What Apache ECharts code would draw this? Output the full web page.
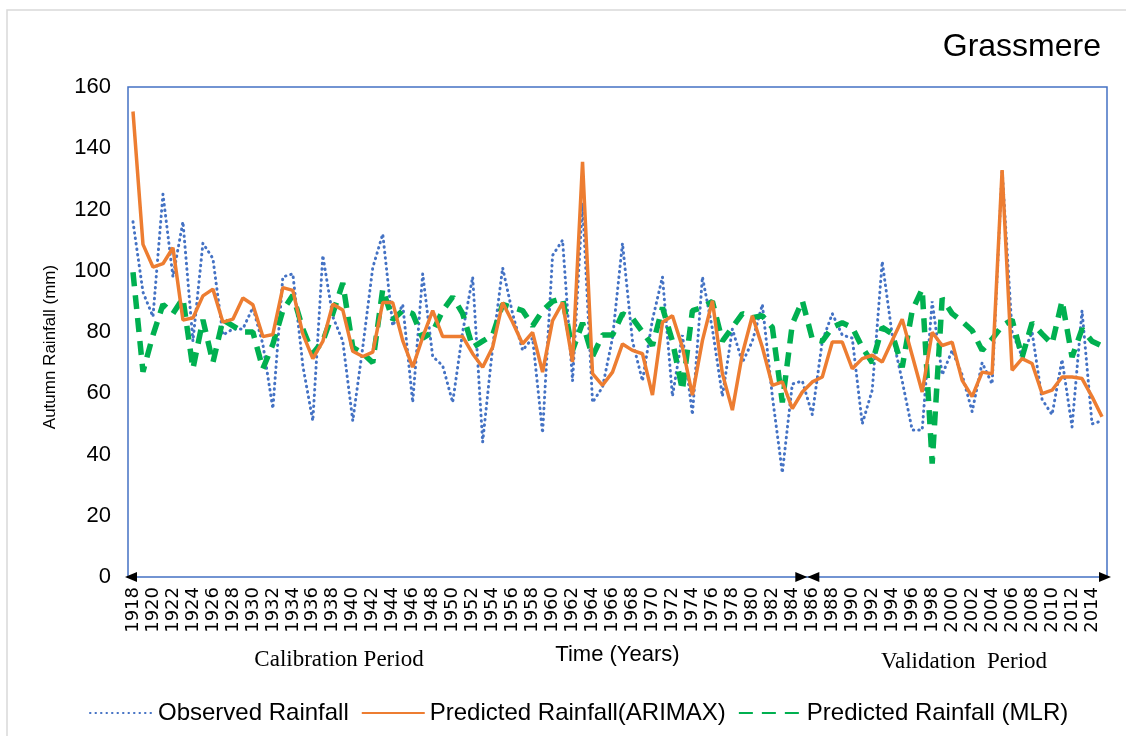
<!DOCTYPE html>
<html>
<head>
<meta charset="utf-8">
<title>Grassmere</title>
<script src="https://cdn.jsdelivr.net/npm/echarts@6/dist/echarts.min.js"></script>
<style>
    html, body { margin: 0; padding: 0; background: #fff; }
    #chart { width: 1126px; height: 736px; }
</style>
</head>
<body>
<div id="chart"></div>
<script>
'use strict';

// years 1918 - 2015
var years = [];
for (var y = 1918; y <= 2015; y++) {
    years.push(String(y));
}

// observed autumn rainfall (mm)
var observed = [
    116, 93, 85, 125, 98, 116, 77, 109, 104, 79,
    81, 81, 88, 76, 55, 98, 99, 69, 51, 105,
    85, 77, 51, 75, 101, 112, 82, 89, 57, 99,
    72, 69, 57, 80, 98, 44, 75, 101, 86, 74,
    78, 47, 105, 110, 64, 122, 57, 62, 78, 109,
    77, 64, 84, 98, 59, 79, 53, 98, 81, 59,
    81, 70, 77, 89, 59, 34, 63, 64, 53, 77,
    86, 79, 78, 50, 61, 103, 79, 64, 48, 48,
    90, 66, 74, 66, 54, 70, 63, 133, 80, 72,
    80, 58, 53, 71, 49, 87, 50, 51
];

// predicted rainfall, ARIMAX
var arimax = [
    152, 108.6, 101.2, 102.3, 107.5, 83.9, 84.6, 91.8, 94, 83.2,
    84.2, 91.1, 88.9, 78.5, 79.2, 94.5, 93.6, 79.4, 71.3, 76.9,
    89.1, 87.2, 73.7, 72, 73.4, 89.6, 89.6, 77.2, 68.5, 78.3,
    87, 78.5, 78.5, 78.5, 72.9, 68.5, 75, 89.6, 83.2, 76.1,
    79.9, 66.9, 83.7, 89.6, 70.2, 135.6, 66.4, 62.6, 66.9, 76.1,
    74, 72.9, 59.4, 83.2, 85.3, 75, 59.4, 77.2, 90.2, 66.4,
    54.5, 72.9, 85.3, 75, 62.6, 63.7, 55, 60.4, 63.7, 65.3,
    76.7, 76.7, 68, 71.3, 72.4, 70.2, 77.2, 84.2, 72.3, 60.4,
    79.9, 75.6, 76.7, 64.2, 58.9, 66.9, 66.4, 132.9, 67.5, 71.3,
    69.7, 59.9, 61, 65.3, 65.3, 64.8, 58.9, 52.3
];

// predicted rainfall, MLR
var mlr = [
    99.5, 67, 79, 89, 86, 91, 68, 84, 70, 84,
    82, 80, 80, 68, 76, 87, 92, 81, 73, 77,
    86, 96, 75, 73, 70, 94, 84, 87, 86, 78,
    80, 87, 91.5, 86, 75, 77, 79, 89, 88, 87,
    82, 87, 90, 91, 74, 83, 72, 79, 79, 86,
    84.5, 80, 75.6, 88, 77, 61, 87, 88, 90, 77,
    81.5, 86, 84.7, 85.3, 81.5, 57, 82.6, 90.2, 77.7, 77,
    81.5, 83, 81.5, 75, 70, 81.5, 79.4, 68.5, 87, 94,
    37, 91, 86, 83.5, 80.5, 74, 77.7, 82, 84, 71.8,
    83, 79.4, 76.1, 90.2, 71.8, 81, 77, 75.4
];

var splitYear = '1985'; // end of calibration period

var chart = echarts.init(document.getElementById('chart'));

chart.setOption({
    animation: false,
    backgroundColor: '#fff',
    title: {
        text: 'Grassmere',
        right: 20,
        top: 26,
        textStyle: { fontFamily: 'Liberation Sans', fontSize: 32, fontWeight: 'normal', color: '#000' }
    },
    grid: {
        left: 128,
        right: 19,
        top: 87,
        bottom: 159,
        show: true,
        borderColor: '#4472C4',
        borderWidth: 1.5,
        backgroundColor: 'transparent'
    },
    legend: {
        left: 84,
        top: 696,
        itemWidth: 63,
        itemHeight: 14,
        itemGap: 12,
        itemStyle: { opacity: 0 },
        textStyle: { fontFamily: 'Liberation Sans', fontSize: 24, color: '#000' },
        data: ['Observed Rainfall', 'Predicted Rainfall(ARIMAX)', 'Predicted Rainfall (MLR)']
    },
    xAxis: {
        type: 'category',
        data: years,
        boundaryGap: true,
        name: 'Time (Years)',
        nameLocation: 'middle',
        nameGap: 67,
        nameTextStyle: { fontFamily: 'Liberation Sans', fontSize: 22, color: '#000' },
        axisLine: { show: false },
        axisTick: { show: false },
        axisLabel: {
            interval: 1,
            rotate: 90,
            margin: 10,
            fontFamily: 'DejaVu Sans',
            fontSize: 18,
            color: '#000'
        },
        splitLine: { show: false }
    },
    yAxis: {
        type: 'value',
        min: 0,
        max: 160,
        interval: 20,
        axisLine: { show: false },
        axisTick: { show: false },
        axisLabel: { margin: 17, fontFamily: 'Liberation Sans', fontSize: 22, color: '#000' },
        splitLine: { show: false }
    },
    series: [{
        name: 'Observed Rainfall',
        type: 'line',
        data: observed,
        symbol: 'none',
        color: '#4472C4',
        lineStyle: { width: 3, type: [0.5, 5], cap: 'round', color: '#4472C4' },
        z: 2
    }, {
        name: 'Predicted Rainfall(ARIMAX)',
        type: 'line',
        data: arimax,
        symbol: 'none',
        color: '#ED7D31',
        lineStyle: { width: 3.5, type: 'solid', color: '#ED7D31' },
        z: 4
    }, {
        name: 'Predicted Rainfall (MLR)',
        type: 'line',
        data: mlr,
        symbol: 'none',
        color: '#00B050',
        lineStyle: { width: 5.5, type: [14, 9], color: '#00B050' },
        z: 3
    }]
});

// 坐标轴上的箭头和时段标注
function drawNotes() {
    var x0 = chart.convertToPixel({ xAxisIndex: 0 }, years[0]);
    var x1 = chart.convertToPixel({ xAxisIndex: 0 }, years[1]);
    var xn = chart.convertToPixel({ xAxisIndex: 0 }, years[years.length - 1]);
    var xs = chart.convertToPixel({ xAxisIndex: 0 }, splitYear);
    var band = x1 - x0;
    var left = x0 - band / 2;
    var right = xn + band / 2;
    var mid = xs + band / 2;
    var y0 = chart.convertToPixel({ yAxisIndex: 0 }, 0);
    var len = 12, half = 5;

    function tri(tipX, dir) {
        return {
            type: 'polygon',
            shape: { points: [[tipX, y0], [tipX - dir * len, y0 - half], [tipX - dir * len, y0 + half]] },
            style: { fill: '#000' },
            z: 10
        };
    }

    chart.setOption({
        graphic: [{
            type: 'rect',
            shape: { x: 7, y: 10, width: 1140, height: 760 },
            style: { fill: 'none', stroke: '#d9d9d9', lineWidth: 1.5 },
            silent: true
        },
        tri(left - 3, -1),
        tri(mid, 1),
        tri(mid, -1),
        tri(right + 4, 1),
        {
            type: 'text',
            x: 50,
            y: 347,
            rotation: Math.PI / 2,
            style: {
                text: 'Autumn Rainfall (mm)',
                font: '17px "Liberation Sans"',
                fill: '#000',
                align: 'center',
                verticalAlign: 'middle'
            }
        }, {
            type: 'text',
            x: 339,
            y: 660,
            style: {
                text: 'Calibration Period',
                font: '23px "Liberation Serif"',
                fill: '#000',
                align: 'center',
                verticalAlign: 'middle'
            }
        }, {
            type: 'text',
            x: 964,
            y: 662,
            style: {
                text: 'Validation  Period',
                font: '23px "Liberation Serif"',
                fill: '#000',
                align: 'center',
                verticalAlign: 'middle'
            }
        }]
    });
}

drawNotes();
</script>
</body>
</html>
